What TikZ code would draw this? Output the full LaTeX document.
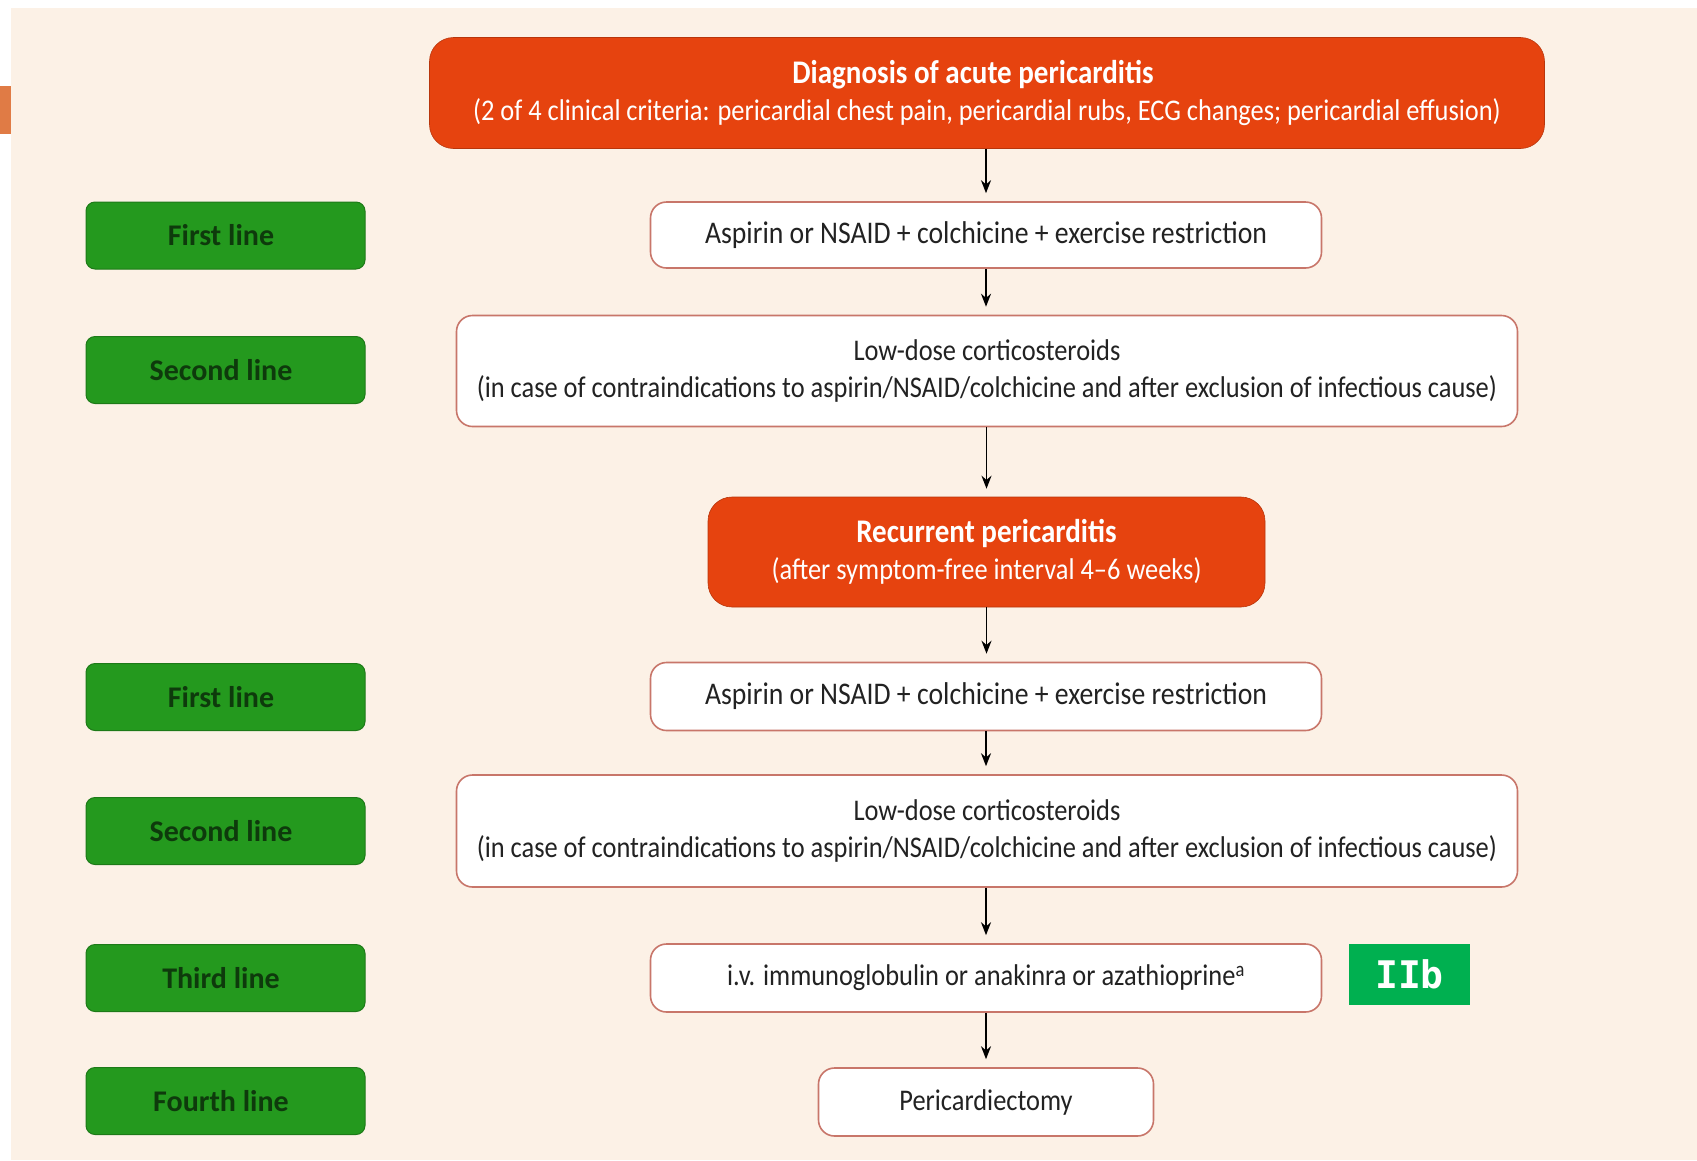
\documentclass[tikz,border=0pt]{standalone}
\usepackage{fontspec}
\setmainfont{Carlito}
\newfontfamily\bodyf{Carlito}[FakeStretch=0.88]
\newfontfamily\labf{Carlito}
\newfontfamily\iibf{DejaVu Sans Mono}
\usetikzlibrary{arrows.meta}
\definecolor{cream}{HTML}{FCF1E6}
\definecolor{orangebox}{HTML}{E6430F}
\definecolor{stripc}{HTML}{E07B45}
\definecolor{greenbox}{HTML}{24991E}
\definecolor{greentext}{HTML}{0E3A0C}
\definecolor{bordc}{HTML}{C8766A}
\definecolor{iibc}{HTML}{00B050}
\definecolor{txt}{HTML}{222222}
\newcommand{\bigtitle}[1]{{\bfseries\fontsize{33}{37}\selectfont #1}}
\tikzset{
  hdr/.style={rectangle, rounded corners=24pt, fill=orangebox, draw=orangebox!80!black, line width=0.6pt, text=white, align=center, font=\bodyf\fontsize{30}{37}\selectfont, inner sep=0pt},
  wbox/.style={rectangle, rounded corners=16pt, fill=white, draw=bordc, line width=1.6pt, text=txt, align=center, font=\bodyf\fontsize{30}{37}\selectfont, inner sep=0pt},
  lab/.style={rectangle, rounded corners=9pt, fill=greenbox, draw=greenbox!80!black, line width=1pt, text=greentext, font=\labf\bfseries\fontsize{30}{34}\selectfont, inner sep=0pt, minimum width=279pt, minimum height=67pt, execute at end node={\hspace{9pt}}},
  iib/.style={rectangle, fill=iibc, text=white, font=\iibf\bfseries\fontsize{38}{40}\selectfont, inner sep=0pt, minimum width=121pt, minimum height=61pt},
  arr/.style={-{Stealth[length=13pt,width=10pt]}, line width=1.9pt, black, shorten >=8pt}
}
\begin{document}
\begin{tikzpicture}[x=1pt,y=-1pt]
\useasboundingbox (0,0) rectangle (1697,1160);
\fill[white] (0,0) rectangle (1697,1160);
\fill[cream] (11,8) rectangle (1697,1160);
\fill[stripc] (0,86) rectangle (11,134);

\node[hdr, minimum width=1115pt, minimum height=111pt] (diag) at (987,93)
  {\bigtitle{Diagnosis of acute pericarditis\kern28pt}\\(2 of 4 clinical criteria: pericardial chest pain, pericardial rubs, ECG changes; pericardial effusion)};
\node[wbox, minimum width=671pt, minimum height=66pt, font=\bodyf\fontsize{31.5}{37}\selectfont] (a1) at (986,235)
  {Aspirin or NSAID + colchicine + exercise restriction};
\node[wbox, minimum width=1061pt, minimum height=111pt] (c1) at (987,371)
  {Low-dose corticosteroids\\(in case of contraindications to aspirin/NSAID/colchicine and after exclusion of infectious cause)};
\node[hdr, minimum width=557pt, minimum height=110pt] (rec) at (986.5,552)
  {\bigtitle{Recurrent pericarditis}\\(after symptom-free interval 4–6 weeks)};
\node[wbox, minimum width=671pt, minimum height=68pt, font=\bodyf\fontsize{31.5}{37}\selectfont] (a2) at (986,696.5)
  {Aspirin or NSAID + colchicine + exercise restriction};
\node[wbox, minimum width=1061pt, minimum height=112pt] (c2) at (987,831)
  {Low-dose corticosteroids\\(in case of contraindications to aspirin/NSAID/colchicine and after exclusion of infectious cause)};
\node[wbox, minimum width=671pt, minimum height=68pt] (iv) at (986,978)
  {i.v. immunoglobulin or anakinra or azathioprine\textsuperscript{a}};
\node[wbox, minimum width=335pt, minimum height=68pt] (per) at (986,1102)
  {Pericardiectomy};
\node[iib] (iibn) at (1409.5,974.5) {IIb};

\node[lab] (g1) at (225.5,235.5) {First line};
\node[lab] (g2) at (225.5,370) {Second line};
\node[lab] (g3) at (225.5,697) {First line};
\node[lab] (g4) at (225.5,831) {Second line};
\node[lab] (g5) at (225.5,978) {Third line};
\node[lab] (g6) at (225.5,1101) {Fourth line};

\draw[arr] (diag.south -| a1.north) -- (a1.north);
\draw[arr] (a1.south) -- (a1.south |- c1.north);
\draw[arr] (c1.south -| rec.north) -- (rec.north);
\draw[arr] (rec.south) -- (rec.south |- a2.north);
\draw[arr] (a2.south) -- (a2.south |- c2.north);
\draw[arr] (c2.south -| iv.north) -- (iv.north);
\draw[arr] (iv.south) -- (per.north);
\end{tikzpicture}
\end{document}
